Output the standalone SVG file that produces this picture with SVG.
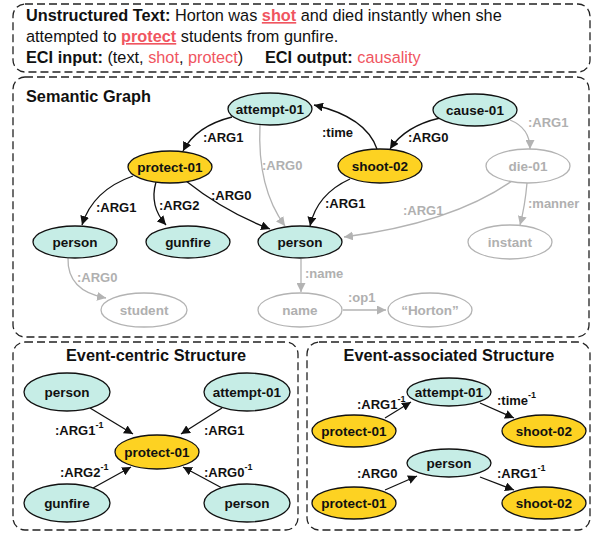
<svg xmlns="http://www.w3.org/2000/svg" width="594" height="533" viewBox="0 0 594 533">
<style>
text{font-family:"Liberation Sans",Arial,Helvetica,sans-serif}
.box{fill:none;stroke:#222;stroke-width:1.3;stroke-dasharray:8 4}
.t{font-size:16.3px;fill:#111}
.b{font-weight:bold}
.red{fill:#f0555f}
.title{font-size:16.3px;font-weight:bold;fill:#111}
.teal{fill:#c6ede6;stroke:#111;stroke-width:1.3}
.yel{fill:#fdd222;stroke:#111;stroke-width:1.3}
.gry{fill:#fff;stroke:#b3b3b3;stroke-width:1.3}
.nl{font-size:13.5px;font-weight:bold;fill:#111;text-anchor:middle}
.gl{font-size:13.5px;font-weight:bold;fill:#b0b0b0;text-anchor:middle}
.e{fill:none;stroke:#111;stroke-width:1.3;marker-end:url(#ab)}
.eg{fill:none;stroke:#b3b3b3;stroke-width:1.3;marker-end:url(#ag)}
.el{font-size:13px;font-weight:bold;fill:#111}
.elg{font-size:13px;font-weight:bold;fill:#b0b0b0}
.sup{font-size:9px}
</style>
<defs>
<marker id="ab" viewBox="0 0 10 10" refX="10" refY="5" markerWidth="9" markerHeight="9" markerUnits="userSpaceOnUse" orient="auto"><path d="M0,0 L10,5 L0,10 z" fill="#111"/></marker>
<marker id="ag" viewBox="0 0 10 10" refX="10" refY="5" markerWidth="9" markerHeight="9" markerUnits="userSpaceOnUse" orient="auto"><path d="M0,0 L10,5 L0,10 z" fill="#b3b3b3"/></marker>
</defs>

<g id="frames">
<rect class="box" x="13" y="4" width="577" height="68" rx="12"/>
<rect class="box" x="13" y="77" width="576" height="260" rx="12"/>
<rect class="box" x="13" y="342" width="285" height="188" rx="12"/>
<rect class="box" x="307" y="342" width="283" height="188" rx="12"/>
</g>

<g id="text-box">
<text class="t" x="26" y="21"><tspan class="b">Unstructured Text:</tspan> Horton was <tspan class="b red" text-decoration="underline">shot</tspan> and died instantly when she</text>
<text class="t" x="26" y="42">attempted to <tspan class="b red" text-decoration="underline">protect</tspan> students from gunfire.</text>
<text class="t" x="26" y="63"><tspan class="b">ECI input:</tspan> (text, <tspan class="red">shot</tspan>, <tspan class="red">protect</tspan>)</text>
<text class="t" x="265" y="63"><tspan class="b">ECI output:</tspan> <tspan class="red">causality</tspan></text>
</g>

<text class="title" x="26" y="102">Semantic Graph</text>
<text class="title" x="156" y="361" text-anchor="middle">Event-centric Structure</text>
<text class="title" x="449" y="361" text-anchor="middle">Event-associated Structure</text>

<g id="connectors">
<path class="e" d="M232,117 Q196,126 183,151"/>
<path class="e" d="M133,176 Q93,190 82,225"/>
<path class="e" d="M156,182 Q149,206 166,225"/>
<path class="e" d="M186,181 Q225,212 270,229"/>
<path class="e" d="M377,149 Q366,117 314,105"/>
<path class="e" d="M440,118 Q405,126 390,149"/>
<path class="e" d="M350,179 Q317,194 310,226"/>
<path class="eg" d="M260,125 Q257,188 285,226"/>
<path class="eg" d="M510,120 Q530,128 530,149"/>
<path class="eg" d="M512,181 Q452,223 344,237"/>
<path class="eg" d="M527,183 Q525,206 520,225"/>
<path class="eg" d="M68,258 Q67,291 106,298"/>
<path class="eg" d="M301,259 L301,292"/>
<path class="eg" d="M343,310 L386,310"/>

<path class="e" d="M90,408 L133,434"/>
<path class="e" d="M222,408 L181,434"/>
<path class="e" d="M93,488 L131,467"/>
<path class="e" d="M222,488 L183,467"/>

<path class="e" d="M385,418 L411,402"/>
<path class="e" d="M480,403 L514,418"/>
<path class="e" d="M385,490 L417,476"/>
<path class="e" d="M480,477 L514,490"/>
</g>

<g id="edge-labels">
<text class="el" x="203" y="142">:ARG1</text>
<text class="el" x="96" y="212">:ARG1</text>
<text class="el" x="159" y="210">:ARG2</text>
<text class="el" x="211" y="200">:ARG0</text>
<text class="el" x="322" y="137">:time</text>
<text class="el" x="408" y="142">:ARG0</text>
<text class="el" x="325" y="208">:ARG1</text>
<text class="elg" x="262" y="170">:ARG0</text>
<text class="elg" x="528" y="127">:ARG1</text>
<text class="elg" x="403" y="215">:ARG1</text>
<text class="elg" x="528" y="208">:manner</text>
<text class="elg" x="77" y="282">:ARG0</text>
<text class="elg" x="305" y="278">:name</text>
<text class="elg" x="348" y="302">:op1</text>

<text class="el" x="55" y="435">:ARG1<tspan class="sup" dy="-7">-1</tspan></text>
<text class="el" x="204" y="435">:ARG1</text>
<text class="el" x="60" y="477">:ARG2<tspan class="sup" dy="-7">-1</tspan></text>
<text class="el" x="204" y="477">:ARG0<tspan class="sup" dy="-7">-1</tspan></text>

<text class="el" x="357" y="409">:ARG1<tspan class="sup" dy="-7">-1</tspan></text>
<text class="el" x="497" y="405">:time<tspan class="sup" dy="-7">-1</tspan></text>
<text class="el" x="357" y="478">:ARG0</text>
<text class="el" x="497" y="478">:ARG1<tspan class="sup" dy="-7">-1</tspan></text>
</g>

<g id="sg-attempt"><ellipse class="teal" cx="270" cy="109" rx="42" ry="16"/><text class="nl" x="270" y="114">attempt-01</text></g>
<g id="sg-cause"><ellipse class="teal" cx="475" cy="110" rx="42" ry="16"/><text class="nl" x="475" y="115">cause-01</text></g>
<g id="sg-protect"><ellipse class="yel" cx="170" cy="167" rx="42" ry="16"/><text class="nl" x="170" y="172">protect-01</text></g>
<g id="sg-shoot"><ellipse class="yel" cx="380" cy="166" rx="42" ry="17"/><text class="nl" x="380" y="171">shoot-02</text></g>
<g id="sg-die"><ellipse class="gry" cx="528" cy="166" rx="42" ry="17"/><text class="gl" x="528" y="171">die-01</text></g>
<g id="sg-person1"><ellipse class="teal" cx="75" cy="242" rx="42" ry="16"/><text class="nl" x="75" y="247">person</text></g>
<g id="sg-gunfire"><ellipse class="teal" cx="188" cy="242" rx="42" ry="16"/><text class="nl" x="188" y="247">gunfire</text></g>
<g id="sg-person2"><ellipse class="teal" cx="300" cy="242" rx="42" ry="16"/><text class="nl" x="300" y="247">person</text></g>
<g id="sg-instant"><ellipse class="gry" cx="510" cy="242" rx="42" ry="17"/><text class="gl" x="510" y="247">instant</text></g>
<g id="sg-student"><ellipse class="gry" cx="144" cy="310" rx="43" ry="17"/><text class="gl" x="144" y="315">student</text></g>
<g id="sg-name"><ellipse class="gry" cx="300" cy="310" rx="42" ry="17"/><text class="gl" x="300" y="315">name</text></g>
<g id="sg-horton"><ellipse class="gry" cx="430" cy="310" rx="42" ry="17"/><text class="gl" x="430" y="315">“Horton”</text></g>

<g id="ec-person1"><ellipse class="teal" cx="67" cy="392" rx="43" ry="19"/><text class="nl" x="67" y="397">person</text></g>
<g id="ec-attempt"><ellipse class="teal" cx="247" cy="392" rx="43" ry="19"/><text class="nl" x="247" y="397">attempt-01</text></g>
<g id="ec-protect"><ellipse class="yel" cx="157" cy="452" rx="42" ry="17"/><text class="nl" x="157" y="457">protect-01</text></g>
<g id="ec-gunfire"><ellipse class="teal" cx="67" cy="503" rx="43" ry="19"/><text class="nl" x="67" y="508">gunfire</text></g>
<g id="ec-person2"><ellipse class="teal" cx="247" cy="503" rx="43" ry="19"/><text class="nl" x="247" y="508">person</text></g>

<g id="ea-attempt"><ellipse class="teal" cx="449" cy="392" rx="42" ry="14"/><text class="nl" x="449" y="397">attempt-01</text></g>
<g id="ea-protect1"><ellipse class="yel" cx="354" cy="431" rx="42" ry="16"/><text class="nl" x="354" y="436">protect-01</text></g>
<g id="ea-shoot1"><ellipse class="yel" cx="544" cy="431" rx="42" ry="16"/><text class="nl" x="544" y="436">shoot-02</text></g>
<g id="ea-person"><ellipse class="teal" cx="449" cy="463" rx="42" ry="14"/><text class="nl" x="449" y="468">person</text></g>
<g id="ea-protect2"><ellipse class="yel" cx="354" cy="503" rx="42" ry="16"/><text class="nl" x="354" y="508">protect-01</text></g>
<g id="ea-shoot2"><ellipse class="yel" cx="544" cy="503" rx="42" ry="16"/><text class="nl" x="544" y="508">shoot-02</text></g>
</svg>
